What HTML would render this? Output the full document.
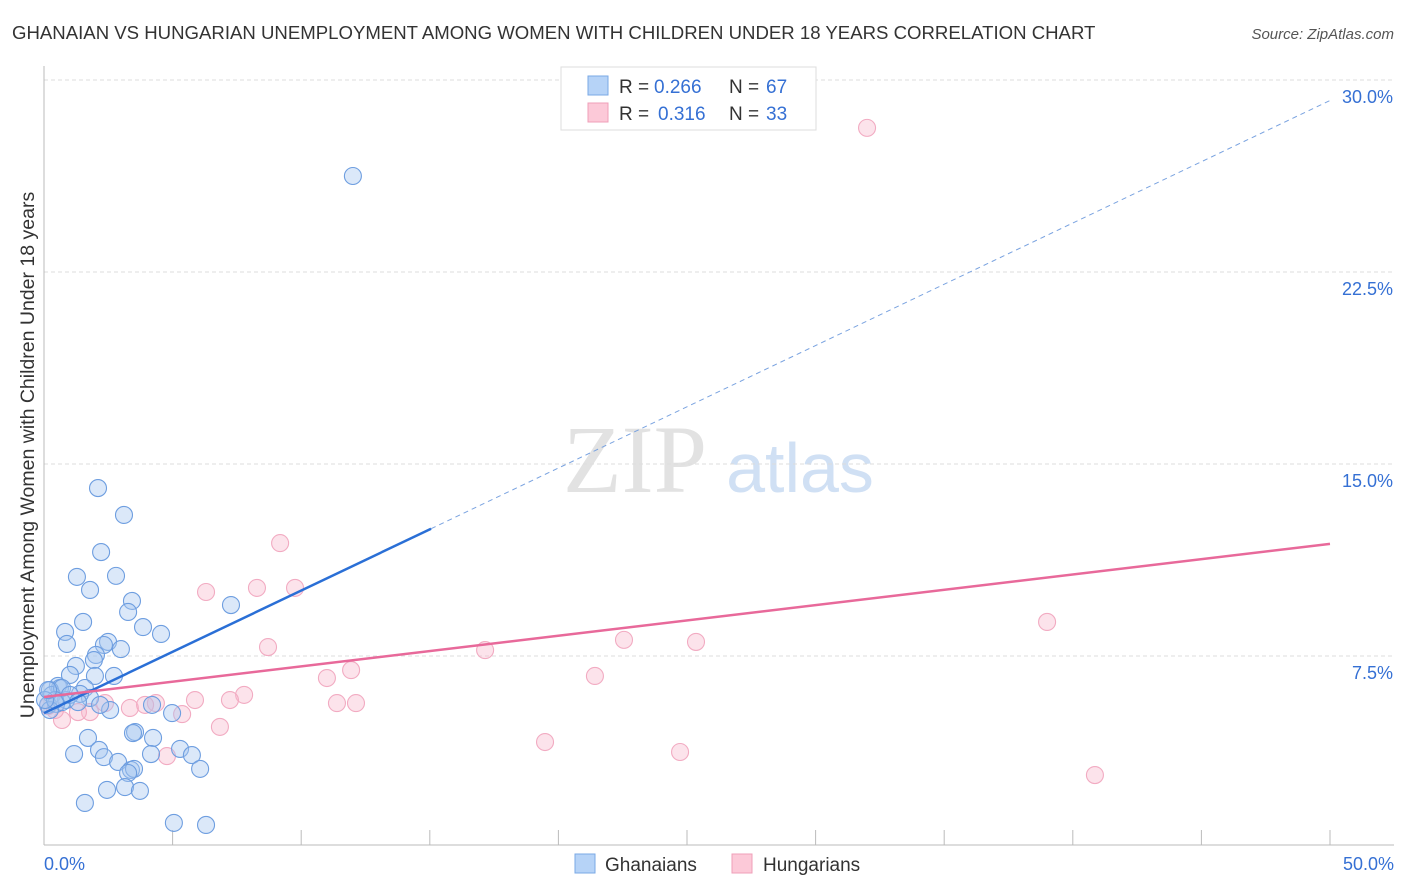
<!DOCTYPE html>
<html><head><meta charset="utf-8"><style>
body{margin:0;background:#fff;font-family:"Liberation Sans",sans-serif}
svg{display:block}
</style></head><body>
<svg id="c" width="1406" height="892">
<text x="12" y="39" font-size="18.6" fill="#333">GHANAIAN VS HUNGARIAN UNEMPLOYMENT AMONG WOMEN WITH CHILDREN UNDER 18 YEARS CORRELATION CHART</text>
<text x="1394" y="39" font-size="15" fill="#555" font-style="italic" text-anchor="end">Source: ZipAtlas.com</text>
<text x="635" y="492" font-size="96" fill="#e2e2e2" font-family="Liberation Serif,serif" text-anchor="middle">ZIP</text>
<text x="800" y="492" font-size="70" fill="#d0e0f4" text-anchor="middle">atlas</text>
<text transform="translate(34,455) rotate(-90)" font-size="19.5" fill="#333" text-anchor="middle">Unemployment Among Women with Children Under 18 years</text>
<g id="grid"></g><g id="pts"></g><g id="lines"></g>
<g>
<rect x="561" y="67" width="255" height="63" fill="#fff" stroke="#ddd"/>
<rect x="588" y="76" width="20" height="19" fill="#b6d3f7" stroke="#7aa8e6"/>
<rect x="588" y="103" width="20" height="19" fill="#fcc9d8" stroke="#ef9fb8"/>
<text x="619" y="93" font-size="19" fill="#333">R =</text>
<text x="654" y="93" font-size="19" fill="#3570d4">0.266</text>
<text x="729" y="93" font-size="19" fill="#333">N =</text>
<text x="766" y="93" font-size="19" fill="#3570d4">67</text>
<text x="619" y="120" font-size="19" fill="#333">R =</text>
<text x="658" y="120" font-size="19" fill="#3570d4">0.316</text>
<text x="729" y="120" font-size="19" fill="#333">N =</text>
<text x="766" y="120" font-size="19" fill="#3570d4">33</text>
</g>
<g>
<rect x="575" y="854" width="20" height="19" fill="#b6d3f7" stroke="#7aa8e6"/>
<text x="605" y="871" font-size="19" fill="#333">Ghanaians</text>
<rect x="732" y="854" width="20" height="19" fill="#fcc9d8" stroke="#ef9fb8"/>
<text x="763" y="871" font-size="19" fill="#333">Hungarians</text>
</g>
</svg>
<script>
const yTicks=[7.5,15,22.5,30];
const yTickLabels=["7.5%","15.0%","22.5%","30.0%"];
const xTicks=[0,5,10,15,20,25,30,35,40,45,50];
const blueX=[12.01,2.10,3.11,2.22,1.28,2.80,1.79,3.42,3.27,7.27,1.52,3.85,4.55,0.82,0.89,2.49,2.33,2.99,2.02,1.94,1.24,2.72,1.98,1.01,0.54,1.59,0.62,0.23,0.31,0.86,1.79,0.16,0.47,0.70,2.57,4.20,4.98,0.23,1.71,3.54,3.46,4.24,1.17,2.14,2.33,5.29,5.75,4.16,2.88,3.38,3.50,6.07,3.27,2.45,3.15,3.73,1.59,5.05,6.30,0.70,0.43,0.04,1.40,1.01,2.18,0.16,1.32];
const blueY=[26.25,14.06,13.01,11.56,10.59,10.63,10.08,9.65,9.22,9.49,8.83,8.63,8.36,8.44,7.97,8.05,7.93,7.77,7.54,7.34,7.11,6.72,6.72,6.76,6.33,6.25,6.25,6.17,5.98,5.78,5.86,5.59,5.63,5.70,5.39,5.59,5.27,5.39,4.30,4.53,4.49,4.30,3.67,3.83,3.55,3.87,3.63,3.67,3.36,3.05,3.09,3.09,2.93,2.27,2.38,2.23,1.76,0.98,0.90,6.25,5.78,5.78,6.02,5.98,5.59,6.17,5.70];
const pinkX=[32.0,9.18,6.30,8.28,9.76,8.71,17.15,22.55,25.35,39.0,21.42,11.94,11.0,5.87,7.78,7.23,4.35,3.34,2.37,3.93,11.39,12.13,5.37,1.79,1.32,6.84,4.78,19.48,24.73,40.86,0.70,0.43,0.16];
const pinkY=[28.13,11.91,10.0,10.16,10.16,7.85,7.73,8.13,8.05,8.83,6.72,6.95,6.64,5.78,5.98,5.78,5.66,5.47,5.66,5.59,5.66,5.66,5.23,5.31,5.31,4.73,3.59,4.14,3.75,2.85,5.0,5.39,5.55];
const blueTrend=[5.27,29.2], blueSolidEnd=15.05;
const pinkTrend=[5.9,11.88];
const X=v=>44+v*25.72, Y=v=>848-v*25.6;
const NS="http://www.w3.org/2000/svg";
function mk(t,a,p){const e=document.createElementNS(NS,t);for(const k in a)e.setAttribute(k,a[k]);p.appendChild(e);return e;}
const grid=document.getElementById('grid');
yTicks.forEach((t,i)=>{
 const l=mk('line',{x1:44,x2:1394,y1:Y(t),y2:Y(t),stroke:'#ddd','stroke-dasharray':'4,3'},grid);
 
 
 const tx=mk('text',{x:1393,y:Y(t)+23,'font-size':18,fill:'#3570d4','text-anchor':'end'},grid);
 tx.textContent=yTickLabels[i];
 
 
});
const ax=mk('line',{x1:44,x2:1394,y1:845,y2:845,stroke:'#bbb'},grid);


const ay=mk('line',{x1:44,x2:44,y1:66,y2:845,stroke:'#bbb'},grid);


xTicks.forEach(t=>{
 const l=mk('line',{x1:X(t),x2:X(t),y1:830,y2:845,stroke:'#bbb'},grid);
 
 
});
[[0,"0.0%",'start',44],[50,"50.0%",'end',1394]].forEach(d=>{
 const tx=mk('text',{x:d[3],y:870,'font-size':18,fill:'#3570d4','text-anchor':d[2]},grid);
 tx.textContent=d[1];
 
 
});
const pts=document.getElementById('pts');
pinkX.forEach((x,i)=>{
 const c=mk('circle',{cx:X(x),cy:Y(pinkY[i]),r:8.5,fill:'rgba(248,185,205,0.4)',stroke:'#f2abc2','stroke-width':1.1},pts);
 
 
});
blueX.forEach((x,i)=>{
 const c=mk('circle',{cx:X(x),cy:Y(blueY[i]),r:8.5,fill:'rgba(165,198,240,0.4)',stroke:'#6e9ee0','stroke-width':1.1},pts);
 
 
});
const lg=document.getElementById('lines');
const bAt=v=>blueTrend[0]+(blueTrend[1]-blueTrend[0])*v/50;
const b1=mk('line',{x1:X(0),y1:Y(bAt(0)),x2:X(blueSolidEnd),y2:Y(bAt(blueSolidEnd)),stroke:'#2a6fd6','stroke-width':2.5},lg);


const b2=mk('line',{x1:X(blueSolidEnd),y1:Y(bAt(blueSolidEnd)),x2:X(50),y2:Y(bAt(50)),stroke:'#7aa3e0','stroke-width':1,'stroke-dasharray':'5,4'},lg);


const p1=mk('line',{x1:X(0),y1:Y(pinkTrend[0]),x2:X(50),y2:Y(pinkTrend[1]),stroke:'#e8699a','stroke-width':2.5},lg);


</script>
</body></html>
